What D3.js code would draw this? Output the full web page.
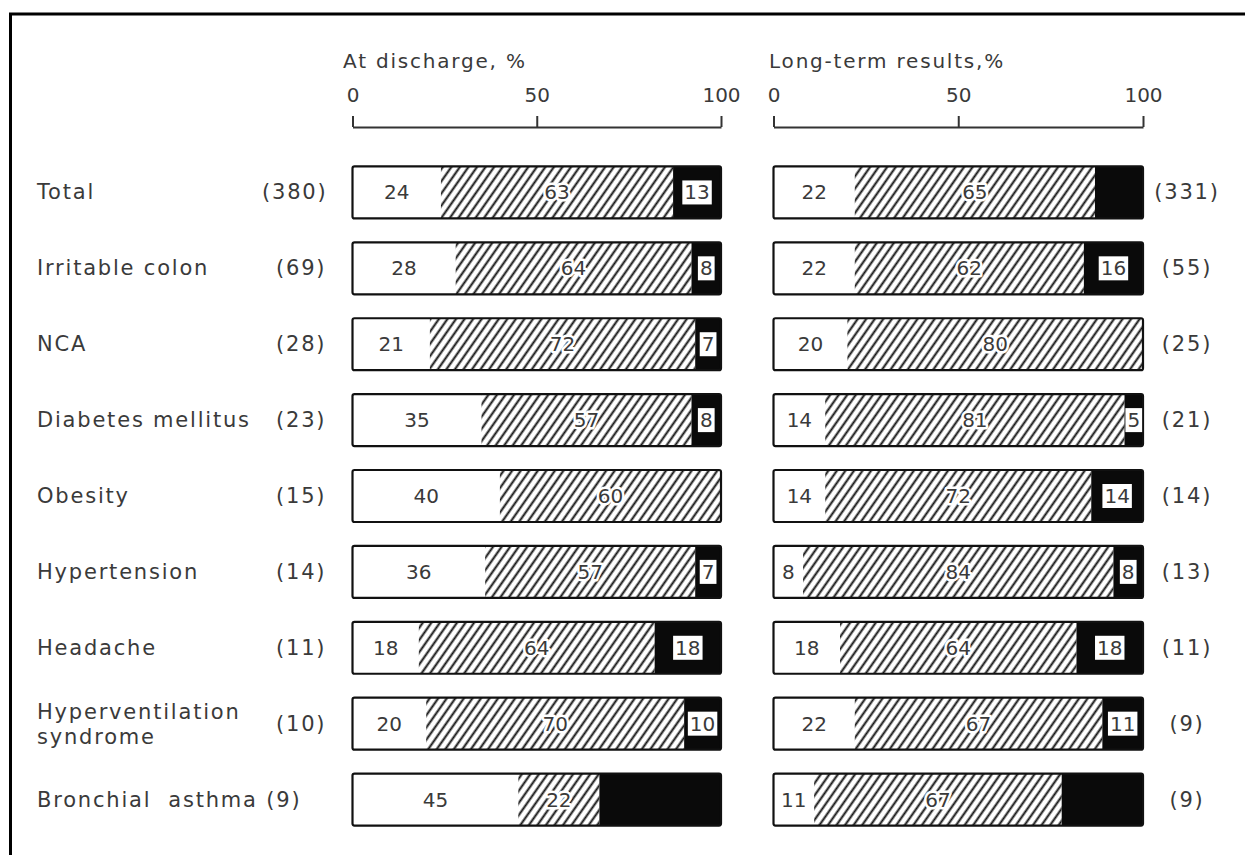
<!DOCTYPE html>
<html>
<head>
<meta charset="utf-8">
<script src="https://cdn.jsdelivr.net/npm/d3@7"></script>
<style>
  body { margin: 0; background: #fff; }
  text { font-family: "DejaVu Sans", sans-serif; fill: #3a3a3a; }
</style>
</head>
<body>
<div id="chart"></div>
<script>
// rows, top to bottom
const categories = ["Total", "Irritable colon", "NCA", "Diabetes mellitus", "Obesity",
  "Hypertension", "Headache", "Hyperventilation syndrome", "Bronchial asthma"];
const nDischarge = [380, 69, 28, 23, 15, 14, 11, 10, 9];
const nLongTerm = [331, 55, 25, 21, 14, 13, 11, 9, 9];

// at discharge, %
const dischargeWhite = [24, 28, 21, 35, 40, 36, 18, 20, 45];
const dischargeHatch = [63, 64, 72, 57, 60, 57, 64, 70, 22];
const dischargeBlack = [13, 8, 7, 8, 0, 7, 18, 10, 33];

// long-term results, %
const longWhite = [22, 22, 20, 14, 14, 8, 18, 22, 11];
const longHatch = [65, 62, 80, 81, 72, 84, 64, 67, 67];
const longBlack = [13, 16, 0, 5, 14, 8, 18, 11, 22];

// black parts printed without a number
const unlabeledDischarge = ["Bronchial asthma"];
const unlabeledLongTerm = ["Total", "Bronchial asthma"];

const tickValues = [0, 50, 100];

const width = 1245;
const height = 855;

const svg = d3.select("#chart")
  .append("svg")
  .attr("width", width)
  .attr("height", height);

// hatch pattern
const pat = svg.append("defs").append("pattern")
  .attr("id", "hatch")
  .attr("patternUnits", "userSpaceOnUse")
  .attr("width", 7)
  .attr("height", 7)
  .attr("patternTransform", "rotate(35)");
pat.append("rect").attr("width", 7).attr("height", 7).attr("fill", "#fff");
pat.append("line")
  .attr("x1", 3.5).attr("y1", 0).attr("x2", 3.5).attr("y2", 7)
  .attr("stroke", "#111").attr("stroke-width", 2);

// frame (top and left only)
svg.append("path")
  .attr("d", `M10.5,${height} V14 H${width}`)
  .attr("fill", "none")
  .attr("stroke", "#000")
  .attr("stroke-width", 3);

const y = d3.scaleBand()
  .domain(categories)
  .range([154.5, 837.5])
  .paddingInner(0.315)
  .paddingOuter(0.1575);

const xLeft = d3.scaleLinear().domain([0, 100]).range([352.5, 721]);
const xRight = d3.scaleLinear().domain([0, 100]).range([773.5, 1143]);

function drawPanel(x, white, hatch, black, unlabeled, title, titleX) {
  const rows = categories.map((c, i) => ({ cat: c, white: white[i], hatch: hatch[i], black: black[i] }));
  const series = d3.stack().keys(["white", "hatch", "black"])(rows);
  const fills = { white: "#fff", hatch: "url(#hatch)", black: "#0a0a0a" };

  // axis
  const gAxis = svg.append("g")
    .attr("transform", "translate(0,127)")
    .call(d3.axisTop(x).tickValues(tickValues).tickSize(11).tickSizeOuter(0).tickPadding(14));
  gAxis.selectAll("path, line").attr("stroke", "#333").attr("stroke-width", 2);
  gAxis.selectAll("text")
    .style("font-family", "DejaVu Sans, sans-serif")
    .style("font-size", "20px")
    .attr("fill", "#3a3a3a");

  svg.append("text")
    .attr("x", titleX)
    .attr("y", 68)
    .style("font-size", "20px")
    .style("letter-spacing", "1.8px")
    .text(title);

  // segments
  const g = svg.append("g");
  series.forEach(s => {
    g.selectAll(null)
      .data(s)
      .join("rect")
      .attr("x", d => x(d[0]))
      .attr("y", d => y(d.data.cat))
      .attr("width", d => x(d[1]) - x(d[0]))
      .attr("height", y.bandwidth())
      .attr("fill", fills[s.key]);
  });

  // outline
  g.selectAll(null)
    .data(rows)
    .join("rect")
    .attr("x", x(0))
    .attr("y", d => y(d.cat))
    .attr("width", x(100) - x(0))
    .attr("height", y.bandwidth())
    .attr("rx", 2)
    .attr("fill", "none")
    .attr("stroke", "#111")
    .attr("stroke-width", 2.2);

  const mid = d => x((d[0] + d[1]) / 2);
  const cy = d => y(d.data.cat) + y.bandwidth() / 2 + 7;

  // white segment numbers
  g.selectAll(null)
    .data(series[0])
    .join("text")
    .attr("x", mid)
    .attr("y", cy)
    .attr("text-anchor", "middle")
    .style("font-size", "20px")
    .text(d => d.data.white);

  // hatch segment numbers with a cleared halo
  g.selectAll(null)
    .data(series[1])
    .join("text")
    .attr("x", mid)
    .attr("y", cy)
    .attr("text-anchor", "middle")
    .style("font-size", "20px")
    .attr("stroke", "#fff")
    .attr("stroke-width", 5)
    .attr("stroke-linejoin", "round")
    .attr("paint-order", "stroke")
    .text(d => d.data.hatch);

  // black segment numbers in white boxes
  const blackLab = series[2].filter(d => d.data.black > 0 && !unlabeled.includes(d.data.cat));
  const boxes = g.selectAll(null).data(blackLab).join("rect").attr("fill", "#fff");
  const labs = g.selectAll(null)
    .data(blackLab)
    .join("text")
    .attr("x", mid)
    .attr("y", cy)
    .attr("text-anchor", "middle")
    .style("font-size", "20px")
    .attr("fill", "#111")
    .text(d => d.data.black);
  labs.each(function (d, i) {
    const b = this.getBBox();
    d3.select(boxes.nodes()[i])
      .attr("x", b.x - 2)
      .attr("y", y(d.data.cat) + y.bandwidth() / 2 - 12)
      .attr("width", b.width + 4)
      .attr("height", 24);
  });
}

drawPanel(xLeft, dischargeWhite, dischargeHatch, dischargeBlack, unlabeledDischarge, "At discharge, %", 343);
drawPanel(xRight, longWhite, longHatch, longBlack, unlabeledLongTerm, "Long-term results,%", 769);

// category labels
const labelStyle = sel => sel.style("font-size", "21px").style("letter-spacing", "1.8px").style("white-space", "pre");
categories.forEach((c, i) => {
  const cy = y(c) + y.bandwidth() / 2;
  if (c === "Hyperventilation syndrome") {
    svg.append("text").attr("x", 37).attr("y", cy - 5).call(labelStyle).text("Hyperventilation");
    svg.append("text").attr("x", 37).attr("y", cy + 20).call(labelStyle).text("syndrome");
  } else if (c === "Bronchial asthma") {
    svg.append("text").attr("x", 37).attr("y", cy + 7).call(labelStyle).text(`Bronchial  asthma (${nDischarge[i]})`);
  } else {
    svg.append("text").attr("x", 37).attr("y", cy + 7).call(labelStyle).text(c);
  }
  if (c !== "Bronchial asthma") {
    svg.append("text")
      .attr("x", nDischarge[i] >= 100 ? 262 : 276)
      .attr("y", cy + 7)
      .call(labelStyle)
      .text(`(${nDischarge[i]})`);
  }
  svg.append("text")
    .attr("x", 1187)
    .attr("y", cy + 7)
    .attr("text-anchor", "middle")
    .call(labelStyle)
    .text(`(${nLongTerm[i]})`);
});
</script>
</body>
</html>
